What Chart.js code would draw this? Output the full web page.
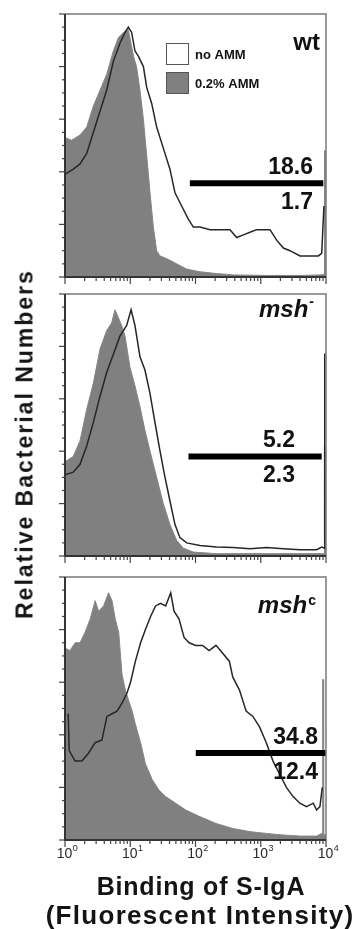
<!DOCTYPE html>
<html>
<head>
<meta charset="utf-8">
<script src="https://cdn.jsdelivr.net/npm/chart.js@4.4.0/dist/chart.umd.min.js"></script>
<style>
body{margin:0;background:#fff;}
#wrap{position:relative;width:357px;height:929px;overflow:hidden;background:#fff;font-family:"Liberation Sans",Arial,Helvetica,sans-serif;}
canvas{position:absolute;left:0;}
.ttl{position:absolute;font-weight:bold;color:#141414;white-space:nowrap;line-height:1;transform:translate(-50%,-50%);}
#ytitle{left:25px;top:444px;font-size:23px;letter-spacing:2.0px;transform:translate(-50%,-50%) rotate(-90deg);}
#xt1{left:201px;top:886px;font-size:25px;letter-spacing:0.8px;}
#xt2{left:200px;top:915px;font-size:26px;letter-spacing:1.3px;}
</style>
</head>
<body>
<div id="wrap">
  <canvas id="c0"></canvas>
  <canvas id="c1"></canvas>
  <canvas id="c2"></canvas>
  <div class="ttl" id="ytitle">Relative Bacterial Numbers</div>
  <div class="ttl" id="xt1">Binding of S-IgA</div>
  <div class="ttl" id="xt2">(Fluorescent Intensity)</div>
</div>
<script>
// --- data ---
var seriesLabels = ['no AMM', '0.2% AMM'];
var panelNames = ['wt', 'msh', 'msh'];
var panelSups = ['', '-', 'c'];
var gateHigh = ['18.6', '5.2', '34.8'];   // no AMM
var gateLow = ['1.7', '2.3', '12.4'];     // 0.2% AMM
var xDecades = [1, 10, 100, 1000, 10000];

// wt
var wtNoAmmX = [1.0,1.34,1.70,2.15,2.72,3.44,4.35,5.51,6.97,8.31,9.35,10.5,11.8,13.3,15.9,17.9,21.3,25.4,32.1,40.6,48.5,61.4,77.6,92.7,117,167,237,338,427,541,684,865,1096,1387,1754,2218,2805,3997,5687,7632,8590,9300];
var wtNoAmmY = [39,41,43,47,55,63,71,82,89,93,95,93,86,84,80,72,66,57,49,41,32,27,22,19,19,18,18,18,15,16,17,18,18,18,14,11,10,8,8,8,9,27];
var wtAmmX = [1,1.26,1.70,2.15,2.72,3.44,4.35,5.51,6.57,7.84,9.35,11.2,12.5,14.1,15.9,17.9,20.1,22.6,25.4,28.6,36.1,51.4,73.2,117,211,380,1230,3990,8090,9450,9500,9700,9750,10000];
var wtAmmY = [53,52,54,57,65,71,77,86,91,93,94,84,80,71,60,46,32,19,10,8,7,5,3,2,1.3,0.8,0.6,0.6,0.8,1,48,48,1,1];

// msh-
var mshNegNoAmmX = [1,1.34,1.70,2.15,2.72,3.44,4.35,5.51,6.97,8.81,10.3,11.8,14.1,16.8,20.1,23.9,28.6,34.1,40.6,48.5,57.8,73.2,117,211,380,684,1230,2218,3997,7190,8590,9500,9560,9900];
var mshNegNoAmmY = [31,32,35,42,51,61,70,77,84,88,94,88,76,71,62,51,40,30,21,12,7,5,4,3.4,3.2,2.8,3.2,2.8,2.4,2.4,3.4,3,77,77];
var mshNegAmmX = [1,1.34,1.70,2.15,2.72,3.44,4.35,5.19,5.84,6.57,7.38,8.31,9.91,11.8,14.1,16.8,20.1,25.4,32.1,40.6,51.4,65.1,92.7,211,1230,9100,9400,9450,9700,9750,10000];
var mshNegAmmY = [36,38,44,56,66,79,86,89,94,91,88,84,72,65,57,48,40,30,20,12,6,3,1.5,0.9,0.9,0.9,0.9,42,42,1,1];

// msh c
var mshCNoAmmX = [1.12,1.16,1.43,1.81,2.29,2.90,3.68,4.39,5.25,6.27,7.48,8.94,10.1,12.0,14.4,17.1,20.5,24.4,29.2,34.9,41.7,46.9,56.0,66.8,79.9,101,128,162,206,261,330,372,472,597,757,959,1216,1541,1950,2473,3133,3972,5032,6382,7178,8072,8770];
var mshCNoAmmY = [48,34,30,30,33,37,38,47,48,49,52,56,60,68,75,80,85,89,90,89,94,87,84,77,75,74,74,72,74,71,68,62,57,49,47,43,37,30,25,20,16.5,14,12.7,14,11.4,12.7,20];
var mshCAmmX = [1,1.19,1.43,1.70,2.03,2.43,2.90,3.27,3.90,4.66,5.25,5.90,6.65,7.48,8.42,9.48,10.7,12.0,14.4,17.1,21.7,27.5,34.9,49.7,71.0,114,206,372,673,1216,2198,3972,7178,8570,8800,8900,9100,9200,10000];
var mshCAmmY = [73,72,75,75,79,84,91,87,89,94,91,84,79,63,57,53,49,44,37,29,23,19,16.5,14,11.4,9,6.3,4.4,3.2,2.5,1.9,1.5,1.5,2.5,2.5,61,61,2,2];

// gate markers (x range and height)
var gateX = [[82, 9100], [78, 8590], [101, 10000]];
var gateY = [35.6, 38.0, 33.1];

var noAmmX = [wtNoAmmX, mshNegNoAmmX, mshCNoAmmX];
var noAmmY = [wtNoAmmY, mshNegNoAmmY, mshCNoAmmY];
var ammX = [wtAmmX, mshNegAmmX, mshCAmmX];
var ammY = [wtAmmY, mshNegAmmY, mshCAmmY];

// --- layout ---
var FONT = '"Liberation Sans", Arial, Helvetica, sans-serif';
var PAD = 10;
var panelTop = [14, 294, 577];
var panelBottom = [277, 556, 840];
var nameLayout = [
  {right: 320, base: 36, italic: false},
  {right: 310, base: 23, italic: true, supBase: 12},
  {right: 312, base: 36, italic: true, supBase: 28}
];
var labelRight = [313, 295, 318];

function pts(xs, ys){
  var out = [];
  for (var i = 0; i < xs.length; i++) out.push({x: xs[i], y: ys[i]});
  return out;
}

var deco = {
  id: 'deco',
  afterDatasetsDraw: function(chart, args, o){
    var ctx = chart.ctx, a = chart.chartArea, sx = chart.scales.x, sy = chart.scales.y;
    ctx.save();
    // frame
    ctx.lineWidth = 1.5;
    ctx.strokeStyle = '#7a7a7a';
    ctx.beginPath();
    ctx.moveTo(a.left, a.top); ctx.lineTo(a.right, a.top); ctx.lineTo(a.right, a.bottom);
    ctx.stroke();
    ctx.strokeStyle = '#333';
    ctx.lineWidth = 2;
    ctx.beginPath();
    ctx.moveTo(a.left, a.top); ctx.lineTo(a.left, a.bottom); ctx.lineTo(a.right, a.bottom);
    ctx.stroke();

    // y ticks
    ctx.lineWidth = 1.2;
    ctx.strokeStyle = '#444';
    for (var v = 0; v <= 100; v += 5){
      var py = sy.getPixelForValue(v);
      var len = v % 20 === 0 ? 6 : 3;
      ctx.beginPath(); ctx.moveTo(a.left - len, py); ctx.lineTo(a.left, py); ctx.stroke();
    }
    // x ticks (log)
    for (var d = 0; d < 4; d++){
      for (var m = 1; m <= 9; m++){
        var px = sx.getPixelForValue(m * Math.pow(10, d));
        var l = m === 1 ? 7 : 4;
        ctx.beginPath(); ctx.moveTo(px, a.bottom); ctx.lineTo(px, a.bottom + l); ctx.stroke();
      }
    }
    var pxe = sx.getPixelForValue(10000);
    ctx.beginPath(); ctx.moveTo(pxe, a.bottom); ctx.lineTo(pxe, a.bottom + 7); ctx.stroke();

    // panel name
    var nl = o.name;
    ctx.fillStyle = '#111';
    ctx.textBaseline = 'alphabetic';
    ctx.textAlign = 'left';
    ctx.font = (nl.italic ? 'italic ' : '') + 'bold 24px ' + FONT;
    var w = ctx.measureText(o.text).width;
    var supW = 0;
    if (o.sup){
      ctx.font = 'bold 14px ' + FONT;
      supW = ctx.measureText(o.sup).width + 1;
    }
    ctx.font = (nl.italic ? 'italic ' : '') + 'bold 24px ' + FONT;
    var nx = nl.right - w - (o.sup ? supW - 4 : 0);
    ctx.fillText(o.text, nx, a.top + nl.base);
    if (o.sup){
      ctx.font = 'bold 14px ' + FONT;
      ctx.fillText(o.sup, nx + w + 1, a.top + nl.supBase);
    }

    // gate labels
    var by = sy.getPixelForValue(o.gateY);
    ctx.font = 'bold 23px ' + FONT;
    ctx.textAlign = 'right';
    ctx.fillText(o.hi, o.labelRight, by - 9);
    ctx.fillText(o.lo, o.labelRight, by + 26);

    // legend (top panel only)
    if (o.legend){
      var ds = chart.data.datasets;
      var lx = a.left + 101, ly = a.top + 29;
      for (var k = 0; k < 2; k++){
        var d2 = ds[k + 1];
        var y0 = ly + k * 29;
        ctx.fillStyle = k === 0 ? '#fff' : d2.backgroundColor;
        ctx.fillRect(lx, y0, 23, 22);
        ctx.strokeStyle = '#555';
        ctx.lineWidth = 1;
        ctx.strokeRect(lx + 0.5, y0 + 0.5, 22, 21);
        ctx.fillStyle = '#111';
        ctx.textAlign = 'left';
        ctx.textBaseline = 'middle';
        ctx.font = 'bold 13px ' + FONT;
        ctx.fillText(d2.label, lx + 29, y0 + 12);
      }
      ctx.textBaseline = 'alphabetic';
    }

    // x tick labels (bottom panel only)
    if (o.xLabels){
      ctx.fillStyle = '#2a2a2a';
      ctx.textAlign = 'left';
      for (var j = 0; j < xDecades.length; j++){
        var cx = sx.getPixelForValue(xDecades[j]) + 2;
        ctx.font = '14px ' + FONT;
        var w10 = ctx.measureText('10').width;
        ctx.font = '9px ' + FONT;
        var we = ctx.measureText(String(j)).width;
        var sx0 = cx - (w10 + we) / 2;
        ctx.font = '14px ' + FONT;
        ctx.fillText('10', sx0, a.bottom + 18);
        ctx.font = '9px ' + FONT;
        ctx.fillText(String(j), sx0 + w10 + 0.5, a.bottom + 11);
      }
    }
    ctx.restore();
  }
};

function makeChart(i){
  var padBottom = i === 2 ? 32 : PAD;
  var cv = document.getElementById('c' + i);
  cv.style.top = (panelTop[i] - PAD) + 'px';
  cv.width = 357;
  cv.height = panelBottom[i] - panelTop[i] + PAD + padBottom;
  return new Chart(cv, {
    type: 'line',
    data: {
      datasets: [
        {label: 'gate', data: pts(gateX[i], [gateY[i], gateY[i]]), borderColor: '#000', borderWidth: 6,
         borderCapStyle: 'butt', fill: false, order: 0},
        {label: seriesLabels[0], data: pts(noAmmX[i], noAmmY[i]), borderColor: '#262626', borderWidth: 1.5,
         backgroundColor: '#fff', fill: false, order: 1},
        {label: seriesLabels[1], data: pts(ammX[i], ammY[i]), borderColor: '#858585', borderWidth: 1,
         backgroundColor: '#808080', fill: 'origin', order: 2}
      ]
    },
    options: {
      responsive: false,
      animation: false,
      events: [],
      layout: {padding: {left: 65, right: 31, top: PAD, bottom: padBottom}},
      elements: {point: {radius: 0}, line: {tension: 0}},
      scales: {
        x: {type: 'logarithmic', min: 1, max: 10000, display: false},
        y: {type: 'linear', min: 0, max: 100, display: false}
      },
      plugins: {
        legend: {display: false},
        tooltip: {enabled: false},
        deco: {
          name: nameLayout[i], text: panelNames[i], sup: panelSups[i],
          gateY: gateY[i], hi: gateHigh[i], lo: gateLow[i], labelRight: labelRight[i],
          legend: i === 0, xLabels: i === 2
        }
      }
    },
    plugins: [deco]
  });
}

for (var i = 0; i < 3; i++) makeChart(i);
</script>
</body>
</html>
